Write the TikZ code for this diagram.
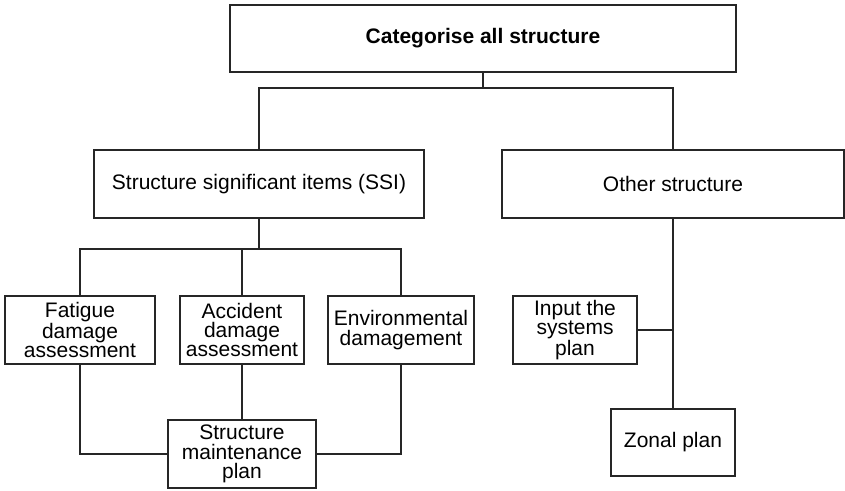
\documentclass[tikz,border=0pt]{standalone}
\usepackage{fontspec}
\setmainfont{Liberation Sans}
\begin{document}
\begin{tikzpicture}[x=1pt,y=-1pt,
  every node/.style={inner sep=0pt, outer sep=0pt},
  box/.style={draw=black!85, line width=1.2pt, fill=white, align=center,
    font=\fontsize{21}{19.2}\selectfont, minimum height=68pt},
  topbox/.style={box, line width=2.4pt},
  link/.style={draw=black!85, line width=1.2pt}]
\useasboundingbox (0,0) rectangle (845,490);

% top level
\node[topbox, minimum width=506pt, minimum height=67pt] (top) at (483,38.5)
  {\bfseries Categorise all structure};

% second level
\node[box, minimum width=330pt] (ssi) at (259,184) {Structure significant items (SSI)};
\node[box, minimum width=342pt] (other) at (673,184) {Other structure};

% assessments under SSI
\node[box, minimum width=150pt] (fat) at (80,330) {Fatigue\\damage\\assessment};
\node[box, minimum width=124pt] (acc) at (242,330) {Accident\\damage\\assessment};
\node[box, minimum width=146pt] (env) at (401,330) {Environmental\\damagement};
\node[box, minimum width=148pt] (smp) at (242,454) {Structure\\maintenance\\plan};

% plans under other structure
\node[box, minimum width=124pt] (inp) at (575,330) {Input the\\systems\\plan};
\node[box, minimum width=124pt, minimum height=67pt] (zon) at (673,442.5) {Zonal plan};

% junction points
\coordinate (j1) at (483,88);
\coordinate (j2) at (259,249);
\coordinate (j3) at (673,330);

% connectors
\draw[link] (top.south) -- (j1);
\draw[link] (ssi.north) |- (j1) -| (other.north);
\draw[link] (ssi.south) -- (j2);
\draw[link] (fat.north) |- (j2) -| (env.north);
\draw[link] (acc.north) -- (acc.north |- j2);
\draw[link] (fat.south) |- (smp.west);
\draw[link] (env.south) |- (smp.east);
\draw[link] (acc.south) -- (smp.north);
\draw[link] (other.south) -- (j3);
\draw[link] (inp.east) -- (j3);
\draw[link] (j3) -- (zon.north);
\end{tikzpicture}
\end{document}
